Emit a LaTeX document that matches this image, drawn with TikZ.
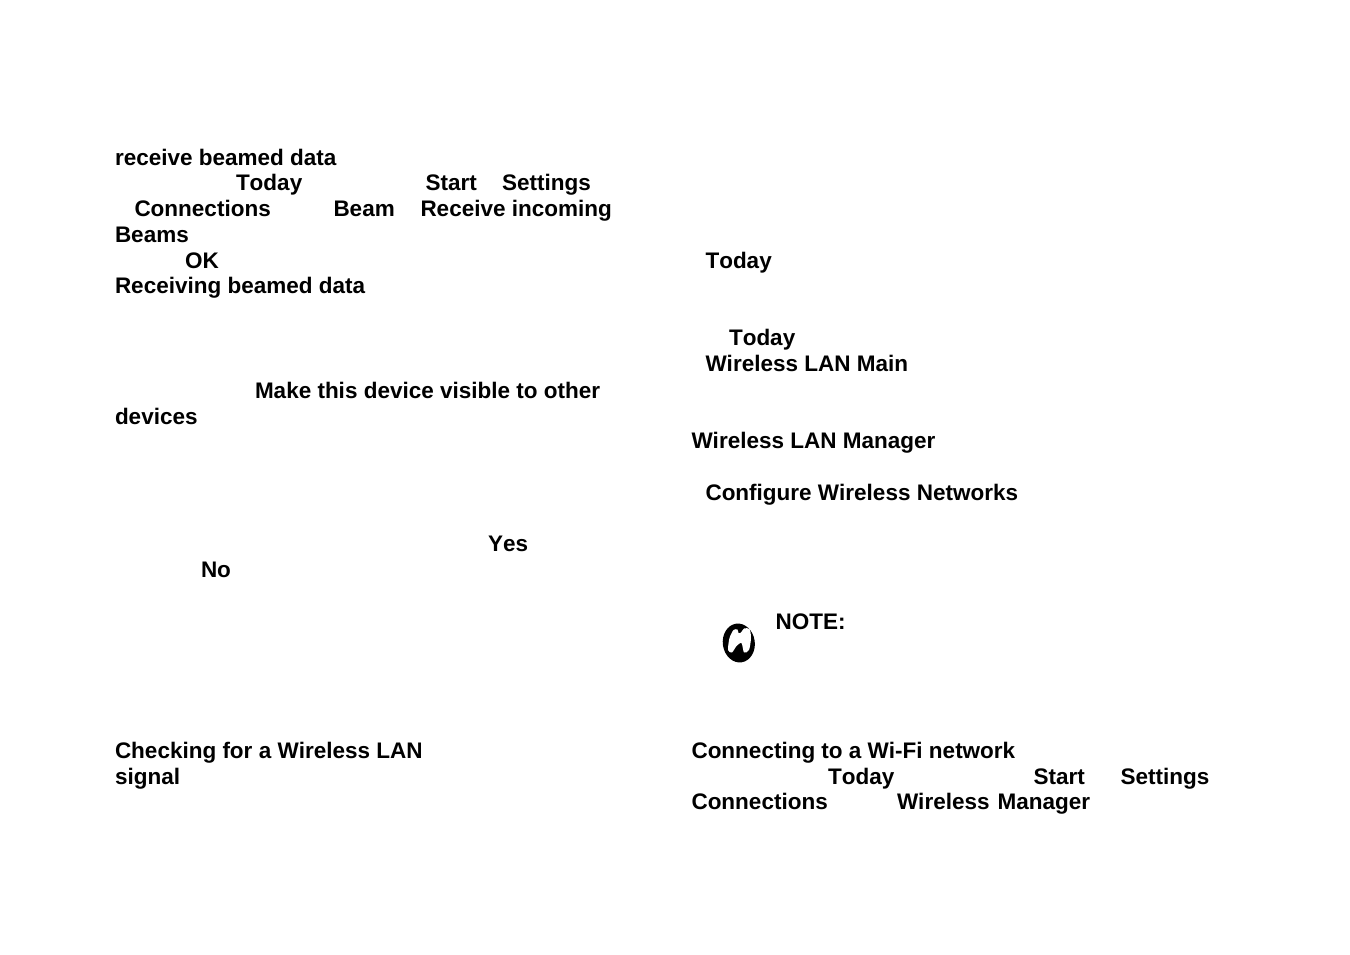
\documentclass[tikz,border=0pt]{standalone}
\usepackage{fontspec}
\setmainfont[Kerning=Off]{Liberation Sans}
\begin{document}
\begin{tikzpicture}[x=1pt,y=-1pt,
  lbl/.style={anchor=base west,inner sep=0pt,outer sep=0pt,font=\fontsize{22.5}{26}\bfseries\selectfont,text=black}]
\useasboundingbox (0,0) rectangle (1350,954);
\fill[white] (0,0) rectangle (1350,954);
\node[lbl] (a1) at (115,165) {receive beamed data};
\node[lbl] (a2) at (236,190.500) {Today};
\node[lbl] (a3) at (425.500,190.500) {Start};
\node[lbl] (a4) at (502,190.500) {Settings};
\node[lbl] (a5) at (134.500,216.500) {Connections};
\node[lbl] (a6) at (333.500,216.500) {Beam};
\node[lbl] (a7) at (420.500,216.500) {Receive incoming};
\node[lbl] (a8) at (115,242.500) {Beams};
\node[lbl] (a9) at (185,268) {OK};
\node[lbl] (a10) at (115,293.500) {Receiving beamed data};
\node[lbl] (a11) at (255,398) {Make this device visible to other};
\node[lbl] (a12) at (115,424) {devices};
\node[lbl] (a13) at (488,551) {Yes};
\node[lbl] (a14) at (201,577) {No};
\node[lbl] (a15) at (115,758) {Checking for a Wireless LAN};
\node[lbl] (a16) at (115,784.500) {signal};
\node[lbl] (b1) at (705.500,268) {Today};
\node[lbl] (b2) at (729,345) {Today};
\node[lbl] (b3) at (705.500,371) {Wireless LAN Main};
\node[lbl] (b4) at (691.500,448.500) {Wireless LAN Manager};
\node[lbl] (b5) at (705.500,500.500) {Configure Wireless Networks};
\node[lbl] (b6) at (775.500,629) {NOTE:};
\node[lbl] (b7) at (691.500,758) {Connecting to a Wi-Fi network};
\node[lbl] (b8) at (828,784) {Today};
\node[lbl] (b9) at (1033.500,784) {Start};
\node[lbl] (b10) at (1120.500,784) {Settings};
\node[lbl] (b11) at (691.500,809.500) {Connections};
\node[lbl] (b12) at (897,809.500) {Wireless};
\node[lbl] (b13) at (997.500,809.500) {Manager};
\fill[black,rotate around={8:(738.800,643)}] (738.800,643) ellipse (16 and 19.500);
\fill[white] plot[smooth cycle,tension=0.45] coordinates {(728,650) (729.5,638) (733.5,630) (737.5,629.5) (738.5,633) (741,632.5) (744,628.5) (749.5,629) (751,638) (749,650) (744,652.5) (741.5,643) (736.5,646) (732,652.5)};
\end{tikzpicture}
\end{document}
